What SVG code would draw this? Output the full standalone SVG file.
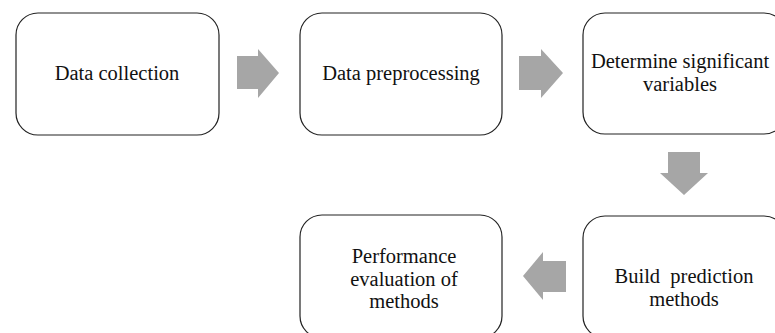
<svg xmlns="http://www.w3.org/2000/svg" width="775" height="333" viewBox="0 0 775 333">
  <style>
    .box { fill: #ffffff; stroke: #222222; stroke-width: 1.2; }
    .lbl { font-family: "Liberation Serif", "Times New Roman", serif; font-size: 20.5px; fill: #111111; text-anchor: middle; }
    .arrow { fill: #a6a6a6; stroke: none; }
  </style>
  <rect width="775" height="333" fill="#ffffff"/>

  <g id="data-collection">
    <rect class="box" x="16" y="13" width="203" height="122" rx="22"/>
    <text class="lbl" x="117" y="80">Data collection</text>
  </g>

  <g id="data-preprocessing">
    <rect class="box" x="300" y="13" width="202" height="122" rx="22"/>
    <text class="lbl" x="401" y="80">Data preprocessing</text>
  </g>

  <g id="significant-variables">
    <rect class="box" x="583" y="13" width="203" height="121" rx="22"/>
    <text class="lbl" x="680" y="68">Determine significant</text>
    <text class="lbl" x="680" y="91">variables</text>
  </g>

  <g id="build-prediction">
    <rect class="box" x="583" y="216" width="203" height="122" rx="22"/>
    <text class="lbl" x="684" y="283" xml:space="preserve">Build  prediction</text>
    <text class="lbl" x="684" y="306">methods</text>
  </g>

  <g id="performance-evaluation">
    <rect class="box" x="300" y="215" width="202" height="123" rx="22"/>
    <text class="lbl" x="404" y="263">Performance</text>
    <text class="lbl" x="404" y="286">evaluation of</text>
    <text class="lbl" x="404" y="308">methods</text>
  </g>

  <!-- block arrows between steps -->
  <g id="connectors">
    <polygon class="arrow" points="237,56 258,56 258,49 279,73 258,98 258,89 237,89"/>
    <polygon class="arrow" points="519,56 541,56 541,49 563,73 541,98 541,90 519,90"/>
    <polygon class="arrow" points="668,152 700,152 700,173 708,173 684,195 660,173 668,173"/>
    <polygon class="arrow" points="566,261 543,261 543,252 523,276 543,300 543,292 566,292"/>
  </g>
</svg>
